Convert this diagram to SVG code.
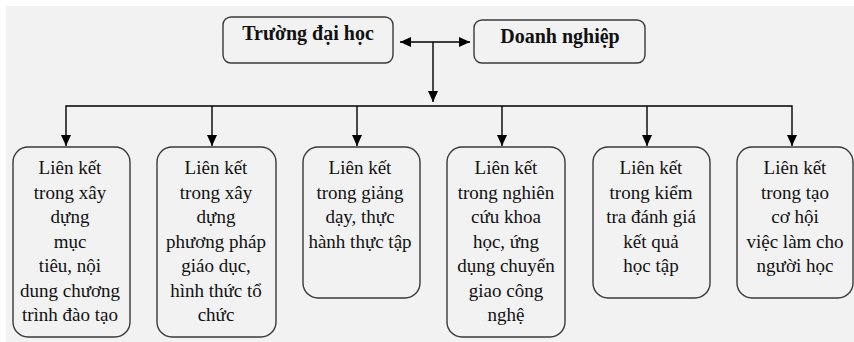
<svg xmlns="http://www.w3.org/2000/svg" width="854" height="342" viewBox="0 0 854 342">
<style>
.bg{fill:#f2f2f2}
.box{fill:none;stroke:#3a3a3a;stroke-width:1.4}
.c{stroke:#000;stroke-width:1.4;fill:none}
.t{font-family:"Liberation Serif","Times New Roman",serif;font-size:19px;fill:#111;text-anchor:middle}
.h{font-family:"Liberation Serif","Times New Roman",serif;font-size:20px;font-weight:bold;fill:#111;text-anchor:middle}
</style>
<defs>
<marker id="ah" markerUnits="userSpaceOnUse" markerWidth="12" markerHeight="12" viewBox="0 0 12 12" refX="11" refY="6" orient="auto-start-reverse">
<path d="M0,1 L11,6 L0,11 Z" fill="#000"/>
</marker>
</defs>
<rect class="bg" x="6" y="6" width="848" height="336"/>
<g id="connectors">
<line class="c" x1="400" y1="42" x2="470" y2="42" marker-start="url(#ah)" marker-end="url(#ah)"/>
<line class="c" x1="433" y1="42" x2="433" y2="102" marker-end="url(#ah)"/>
<polyline class="c" points="66,146 66,106 792,106 792,146" marker-start="url(#ah)" marker-end="url(#ah)"/>
<line class="c" x1="212" y1="106" x2="212" y2="146" marker-end="url(#ah)"/>
<line class="c" x1="357" y1="106" x2="357" y2="146" marker-end="url(#ah)"/>
<line class="c" x1="502" y1="106" x2="502" y2="146" marker-end="url(#ah)"/>
<line class="c" x1="647" y1="106" x2="647" y2="146" marker-end="url(#ah)"/>
</g>
<g id="truong">
<rect class="box" x="223" y="17" width="170" height="46" rx="8"/>
<text class="h" x="308" y="40">Trường đại học</text>
</g>
<g id="doanhnghiep">
<rect class="box" x="474" y="20" width="171" height="43" rx="8"/>
<text class="h" x="560" y="43">Doanh nghiệp</text>
</g>
<g id="b1">
<rect class="box" x="13" y="147" width="117" height="190" rx="15"/>
<text class="t" x="70" y="174">Liên kết</text>
<text class="t" x="70" y="198.5">trong xây</text>
<text class="t" x="70" y="223">dựng</text>
<text class="t" x="70" y="247.5">mục</text>
<text class="t" x="70" y="272">tiêu, nội</text>
<text class="t" x="70" y="296.5">dung chương</text>
<text class="t" x="70" y="321">trình đào tạo</text>
</g>
<g id="b2">
<rect class="box" x="157" y="147" width="119" height="190" rx="15"/>
<text class="t" x="216" y="174">Liên kết</text>
<text class="t" x="216" y="198.5">trong xây</text>
<text class="t" x="216" y="223">dựng</text>
<text class="t" x="216" y="247.5">phương pháp</text>
<text class="t" x="216" y="272">giáo dục,</text>
<text class="t" x="216" y="296.5">hình thức tổ</text>
<text class="t" x="216" y="321">chức</text>
</g>
<g id="b3">
<rect class="box" x="303" y="147" width="117" height="151" rx="15"/>
<text class="t" x="360" y="174">Liên kết</text>
<text class="t" x="360" y="198.5">trong giảng</text>
<text class="t" x="360" y="223">dạy, thực</text>
<text class="t" x="360" y="247.5">hành thực tập</text>
</g>
<g id="b4">
<rect class="box" x="447" y="147" width="118" height="190" rx="15"/>
<text class="t" x="506" y="174">Liên kết</text>
<text class="t" x="506" y="198.5">trong nghiên</text>
<text class="t" x="506" y="223">cứu khoa</text>
<text class="t" x="506" y="247.5">học, ứng</text>
<text class="t" x="506" y="272">dụng chuyển</text>
<text class="t" x="506" y="296.5">giao công</text>
<text class="t" x="506" y="321">nghệ</text>
</g>
<g id="b5">
<rect class="box" x="593" y="147" width="117" height="151" rx="15"/>
<text class="t" x="651" y="174">Liên kết</text>
<text class="t" x="651" y="198.5">trong kiểm</text>
<text class="t" x="651" y="223">tra đánh giá</text>
<text class="t" x="651" y="247.5">kết quả</text>
<text class="t" x="651" y="272">học tập</text>
</g>
<g id="b6">
<rect class="box" x="737" y="147" width="116" height="151" rx="15"/>
<text class="t" x="795" y="174">Liên kết</text>
<text class="t" x="795" y="198.5">trong tạo</text>
<text class="t" x="795" y="223">cơ hội</text>
<text class="t" x="795" y="247.5">việc làm cho</text>
<text class="t" x="795" y="272">người học</text>
</g>
</svg>
